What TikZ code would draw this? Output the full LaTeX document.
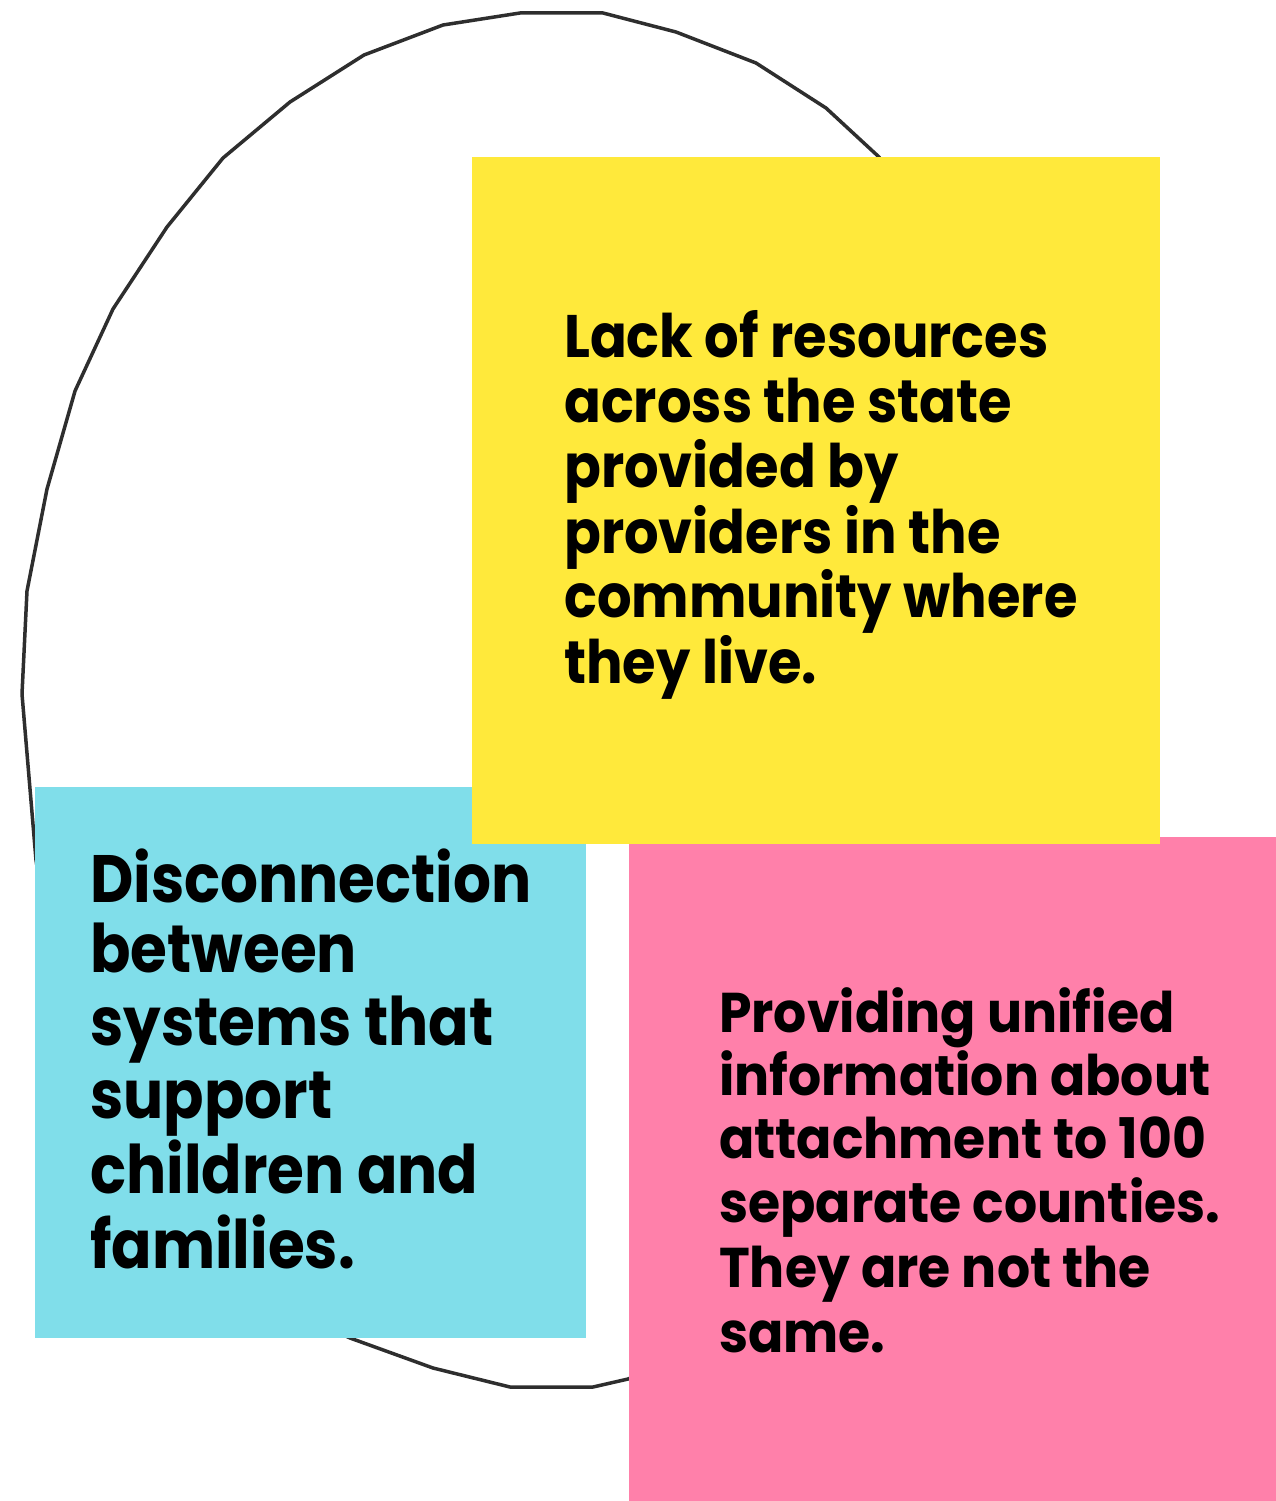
\documentclass[tikz,border=0pt]{standalone}
\usepackage{fontspec}
\setmainfont{Poppins}
\newfontfamily\yfont{Poppins}[FakeStretch=0.905]
\newfontfamily\cfont{Poppins}[FakeStretch=0.89]
\newfontfamily\pfont{Poppins}[FakeStretch=0.93]
\definecolor{noteyellow}{HTML}{FFE93B}
\definecolor{notecyan}{HTML}{80DEEA}
\definecolor{notepink}{HTML}{FF80AA}
\definecolor{inkline}{HTML}{2E2E2E}
\tikzset{
  note/.style={draw=none, inner sep=0pt, anchor=north west},
  notetext/.style={inner sep=0pt, anchor=base west, text=black},
  ytext/.style={notetext, font=\yfont\fontsize{60}{65}\selectfont\bfseries},
  ctext/.style={notetext, font=\cfont\fontsize{67}{73}\selectfont\bfseries},
  ptext/.style={notetext, font=\pfont\fontsize{56}{64}\selectfont\bfseries},
  outline/.style={draw=inkline, line width=3.5pt, line join=round}
}
\begin{document}
\begin{tikzpicture}[x=1pt,y=-1pt]
\useasboundingbox (0,0) rectangle (1276,1501);
% hand-drawn oval
\draw[outline] (520,13) -- (603,13) -- (676,32) -- (756,63) -- (826,108) -- (879,157)
  -- (940,250) -- (990,380) -- (1020,520) -- (1030,700) -- (1010,900) -- (950,1080)
  -- (860,1230) -- (750,1330) -- (628,1379) -- (593,1387) -- (510,1387) -- (433,1368)
  -- (350,1338) -- (250,1290) -- (160,1200) -- (90,1070) -- (50,950) -- (36,860)
  -- (22,694) -- (27,591) -- (47,489) -- (75,391) -- (113,309) -- (167,227)
  -- (223,158) -- (290,102) -- (364,55) -- (443,25) -- cycle;
% notes
\node[note, fill=notecyan, minimum width=551pt, minimum height=551pt] (cyan) at (35,787) {};
\node[note, fill=notepink, minimum width=647pt, minimum height=664pt] (pink) at (629,837) {};
\node[note, fill=noteyellow, minimum width=688pt, minimum height=687pt] (yellow) at (472,157) {};
% yellow text
\node[ytext] (y1) at (564,357) {Lack of resources};
\node[ytext] (y2) at (564,422) {across the state};
\node[ytext] (y3) at (564,487) {provided by};
\node[ytext] (y4) at (564,553) {providers in the};
\node[ytext] (y5) at (564,617) {community where};
\node[ytext] (y6) at (564,683) {they live.};
% cyan text
\node[ctext] (c1) at (90,902) {Disconnection};
\node[ctext] (c2) at (90,972) {between};
\node[ctext] (c3) at (90,1045) {systems that};
\node[ctext] (c4) at (90,1118) {support};
\node[ctext] (c5) at (90,1193) {children and};
\node[ctext] (c6) at (90,1268) {families.};
% pink text
\node[ptext] (p1) at (719,1032) {Providing unified};
\node[ptext] (p2) at (719,1095) {information about};
\node[ptext] (p3) at (719,1158) {attachment to 100};
\node[ptext] (p4) at (719,1222) {separate counties.};
\node[ptext] (p5) at (719,1287) {They are not the};
\node[ptext] (p6) at (719,1352) {same.};
\end{tikzpicture}
\end{document}
